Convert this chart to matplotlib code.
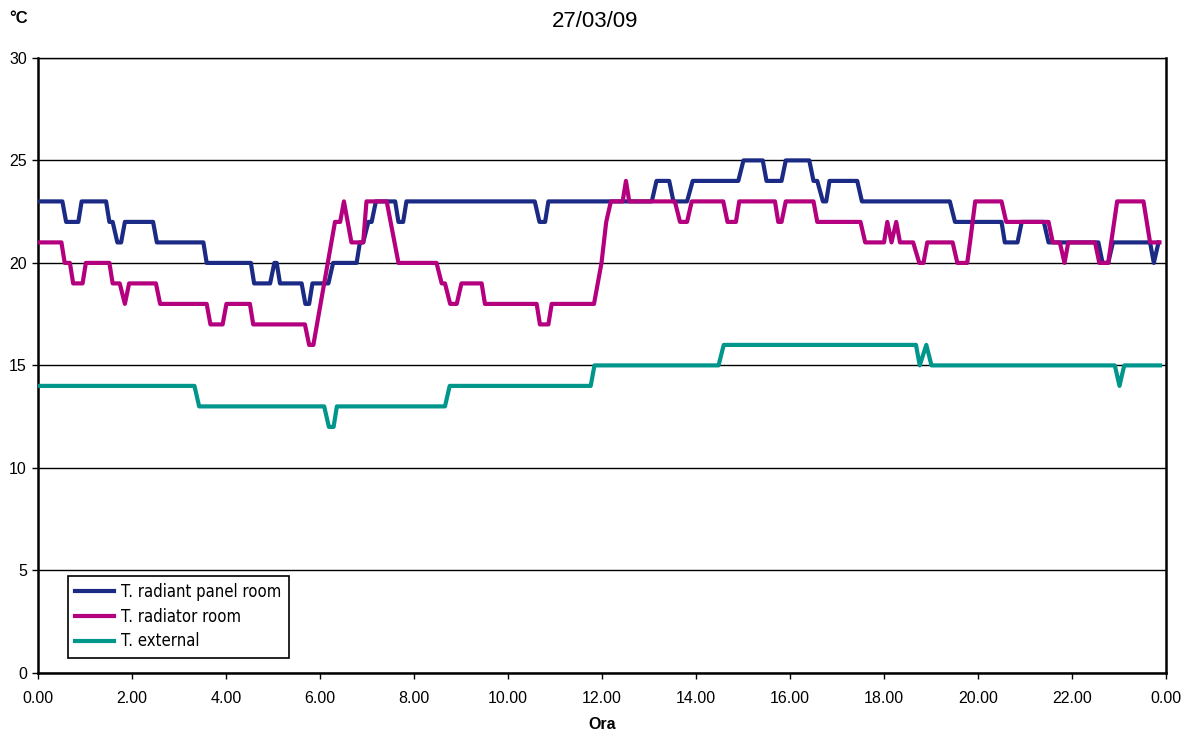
import numpy as np
import matplotlib.pyplot as plt
from matplotlib import font_manager
from matplotlib.font_manager import FontProperties

# (start hour, end hour, temperature)
radiant_panel = [
    (0.00, 0.52, 23), (0.60, 0.86, 22), (0.93, 1.45, 23), (1.52, 1.59, 22),
    (1.69, 1.77, 21), (1.85, 2.45, 22), (2.53, 3.52, 21), (3.59, 4.53, 20),
    (4.60, 4.94, 19), (5.03, 5.08, 20), (5.15, 5.61, 19), (5.69, 5.77, 18),
    (5.84, 6.18, 19), (6.28, 6.78, 20), (6.85, 6.92, 21), (7.03, 7.10, 22),
    (7.19, 7.60, 23), (7.67, 7.77, 22), (7.84, 10.57, 23), (10.67, 10.79, 22),
    (10.86, 13.06, 23), (13.16, 13.43, 24), (13.52, 13.81, 23), (13.93, 14.90, 24),
    (15.01, 15.42, 25), (15.50, 15.82, 24), (15.91, 16.41, 25), (16.50, 16.58, 24),
    (16.70, 16.77, 23), (16.84, 17.43, 24), (17.53, 19.40, 23), (19.51, 20.50, 22),
    (20.57, 20.84, 21), (20.93, 21.40, 22), (21.50, 22.56, 21), (22.65, 22.77, 20),
    (22.87, 23.66, 21), (23.74, 23.74, 20), (23.84, 23.84, 21),
]

radiator = [
    (0.00, 0.50, 21), (0.57, 0.68, 20), (0.75, 0.95, 19), (1.02, 1.52, 20),
    (1.59, 1.74, 19), (1.85, 1.85, 18), (1.94, 2.51, 19), (2.60, 3.59, 18),
    (3.67, 3.93, 17), (4.01, 4.51, 18), (4.58, 5.68, 17), (5.77, 5.86, 16),
    (6.32, 6.43, 22), (6.51, 6.51, 23), (6.67, 6.92, 21), (6.99, 7.42, 23),
    (7.67, 8.48, 20), (8.59, 8.66, 19), (8.77, 8.91, 18), (9.01, 9.44, 19),
    (9.51, 10.61, 18), (10.68, 10.86, 17), (10.93, 11.83, 18), (11.99, 11.99, 20),
    (12.09, 12.09, 22), (12.19, 12.44, 23), (12.51, 12.51, 24), (12.58, 13.55, 23),
    (13.66, 13.81, 22), (13.91, 14.58, 23), (14.67, 14.85, 22), (14.92, 15.68, 23),
    (15.75, 15.82, 22), (15.91, 16.50, 23), (16.58, 17.50, 22), (17.60, 18.00, 21),
    (18.07, 18.07, 22), (18.16, 18.16, 21), (18.26, 18.26, 22), (18.34, 18.62, 21),
    (18.75, 18.84, 20), (18.92, 19.46, 21), (19.56, 19.77, 20), (19.83, 19.83, 21),
    (19.94, 20.50, 23), (20.60, 21.50, 22), (21.59, 21.74, 21), (21.84, 21.84, 20),
    (21.92, 22.49, 21), (22.58, 22.77, 20), (22.96, 23.52, 23), (23.66, 23.86, 21),
]

external = [
    (0.00, 3.33, 14), (3.43, 6.09, 13), (6.19, 6.29, 12), (6.36, 8.66, 13),
    (8.76, 11.76, 14), (11.84, 14.48, 15), (14.59, 18.68, 16), (18.76, 18.76, 15),
    (18.90, 18.90, 16), (19.01, 22.91, 15), (23.01, 23.01, 14), (23.11, 23.87, 15),
]

labels = ["T. radiant panel room", "T. radiator room", "T. external"]
colors = ["#1B2A84", "#B4007E", "#00968C"]
xtick_pos = list(range(0, 25, 2))
xtick_labels = ["0.00", "2.00", "4.00", "6.00", "8.00", "10.00", "12.00",
                "14.00", "16.00", "18.00", "20.00", "22.00", "0.00"]
yticks = [0, 5, 10, 15, 20, 25, 30]


def to_xy(segs):
    x, y = [], []
    for s, e, v in segs:
        x += [s, e]
        y += [v, v]
    return x, y


names = {f.name for f in font_manager.fontManager.ttflist}
if "Liberation Sans Narrow" in names:
    leg_font = FontProperties(family="Liberation Sans Narrow", size=13)
else:
    leg_font = FontProperties(family="DejaVu Sans", stretch="condensed", size=12)
plt.rcParams['font.family'] = ['Liberation Sans', 'DejaVu Sans']

fig = plt.figure(figsize=(11.85, 7.33), dpi=100)
ax = fig.add_axes([0.032, 0.082, 0.952, 0.839])

for segs, lab, c in zip([radiant_panel, radiator, external], labels, colors):
    x, y = to_xy(segs)
    ax.plot(x, y, color=c, lw=3.0, label=lab, solid_joinstyle='round', zorder=3)

ax.set_xlim(0, 24)
ax.set_ylim(0, 30)
ax.set_yticks(yticks)
ax.set_xticks(xtick_pos)
ax.set_xticklabels(xtick_labels)
ax.yaxis.grid(True, color='black', lw=1.0)
ax.set_axisbelow(True)
ax.tick_params(axis='both', direction='out', length=4, width=1, labelsize=11.5,
               colors='black')
ax.tick_params(axis='x', pad=9)
ax.tick_params(axis='y', pad=4)
for sp in ax.spines.values():
    sp.set_linewidth(1.8)
    sp.set_color('black')
ax.spines['top'].set_linewidth(1.0)

fig.text(0.502, 0.970, "27/03/09", ha='center', va='center', fontsize=16)
fig.text(0.008, 0.975, "°C", ha='left', va='center', fontsize=12, fontweight='bold')
ax.set_xlabel("Ora", fontsize=11.5, fontweight='bold', labelpad=8)

leg = ax.legend(loc='lower left', bbox_to_anchor=(0.0266, 0.0244), borderaxespad=0,
                frameon=True, fancybox=False, edgecolor='black', framealpha=1,
                handlelength=2.3, handletextpad=0.45, labelspacing=0.4,
                borderpad=0.45, prop=leg_font)
leg.get_frame().set_linewidth(1.2)

plt.savefig("out.png", dpi=100)
